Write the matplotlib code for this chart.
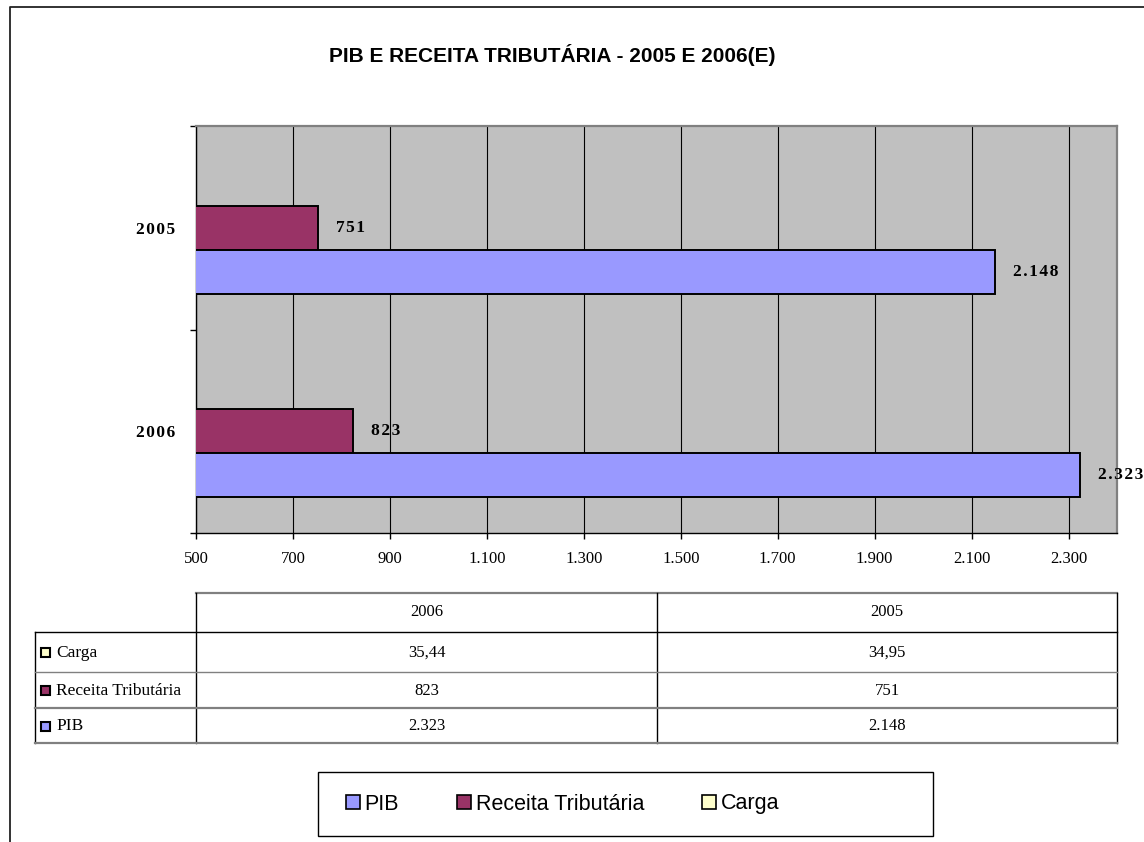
import numpy as np
import matplotlib
matplotlib.use("Agg")
import matplotlib.pyplot as plt
from matplotlib.patches import Patch, Rectangle
from matplotlib import font_manager

# ─────────────────────────────────────────────
# DATA
# ─────────────────────────────────────────────
YEARS       = ["2005", "2006"]               # top -> bottom in the chart
PIB         = [2148, 2323]
RECEITA     = [751, 823]
CARGA       = [34.95, 35.44]
X_TICKS     = [500, 700, 900, 1100, 1300, 1500, 1700, 1900, 2100, 2300]
X_MIN, X_MAX = 500, 2400
TABLE_COLS  = ["2006", "2005"]
TABLE_ROWS  = ["Carga", "Receita Tributária", "PIB"]
LEGEND_ORDER = ["PIB", "Receita Tributária", "Carga"]
TITLE       = "PIB E RECEITA TRIBUTÁRIA - 2005 E 2006(E)"

COLORS = {"PIB": "#9999FF", "Receita Tributária": "#993366", "Carga": "#FFFFCC"}


# ─────────────────────────────────────────────
# Helpers
# ─────────────────────────────────────────────
def has_font(name):
    try:
        font_manager.findfont(font_manager.FontProperties(family=name),
                              fallback_to_default=False)
        return True
    except ValueError:
        return False


SANS  = "Liberation Sans Narrow" if has_font("Liberation Sans Narrow") else "Liberation Sans"
SERIF = "Liberation Serif"


def br_int(v):
    return f"{v:,.0f}".replace(",", ".")


def br_dec(v):
    return f"{v:.2f}".replace(".", ",")


def spaced(s):
    return "\u200a".join(s)


W, H = 1144, 842
fx = lambda px: px / W
fy = lambda py: 1 - py / H

fig = plt.figure(figsize=(W / 100, H / 100), dpi=100)

# ─────────────────────────────────────────────
# Main bar chart
# ─────────────────────────────────────────────
L, R, T, B = 196, 1117, 126, 533
ax = fig.add_axes([fx(L), fy(B), (R - L) / W, (B - T) / H])
ax.set_facecolor("#C0C0C0")

ypos = np.arange(len(YEARS)) + 0.5
bh   = 0.217
series = [("Carga", CARGA, -bh), ("Receita Tributária", RECEITA, 0.0), ("PIB", PIB, bh)]
for name, vals, off in series:
    ax.barh(ypos + off, vals, height=bh, color=COLORS[name],
            edgecolor="black", linewidth=1.4, zorder=3)
    if name == "Carga":
        continue   # below axis minimum, Excel hides it
    for y, v in zip(ypos + off, vals):
        ax.annotate(spaced(br_int(v)), (v, y), xytext=(13, 0),
                    textcoords="offset points", ha="left", va="center",
                    fontsize=12.5, fontweight="bold", family=SERIF, zorder=4)

ax.set_xlim(X_MIN, X_MAX)
ax.set_ylim(len(YEARS), 0)
ax.set_xticks(X_TICKS)
ax.set_xticklabels([br_int(v) for v in X_TICKS], family=SERIF, fontsize=12)
ax.tick_params(axis="x", direction="out", length=4, width=1, pad=9)

ax.set_yticks(np.arange(len(YEARS) + 1))
ax.set_yticklabels([])
ax.set_yticks(ypos, minor=True)
ax.set_yticklabels([spaced(y) for y in YEARS], minor=True,
                   family=SERIF, fontsize=12.5, fontweight="bold")
ax.tick_params(axis="y", which="major", direction="out", length=4, width=1)
ax.tick_params(axis="y", which="minor", length=0, pad=15)

ax.grid(axis="x", color="black", linewidth=0.8)
ax.set_axisbelow(True)
for side in ["top", "right"]:
    ax.spines[side].set_color("#808080")
    ax.spines[side].set_linewidth(1.6)
for side in ["left", "bottom"]:
    ax.spines[side].set_color("black")
    ax.spines[side].set_linewidth(1.0)

# ─────────────────────────────────────────────
# Overlay in pixel coords: frame, data table, legend box
# ─────────────────────────────────────────────
ov = fig.add_axes([0, 0, 1, 1], zorder=-1)
ov.set_xlim(0, W)
ov.set_ylim(H, 0)
ov.axis("off")

# outer chart frame (right / bottom edges are cut off)
ov.plot([10, 10, W + 5], [H + 5, 7, 7], color="#222222", linewidth=1.3, clip_on=False)

# data table
TL, C0, C1, C2 = 35, L, 657, R
R0, R1, R2, R3, R4 = 593, 632, 672, 708, 743
grey, blk = "#808080", "black"
ov.plot([C0, C2], [R0, R0], color=grey, linewidth=1.6)
ov.plot([C0, C0], [R0, R4], color=blk, linewidth=1.0)
ov.plot([C1, C1], [R0, R4], color=blk, linewidth=1.0)
ov.plot([C2, C2], [R0, R4], color=blk, linewidth=1.0)
ov.plot([TL, C2], [R1, R1], color=blk, linewidth=1.0)
ov.plot([TL, TL], [R1, R4], color=blk, linewidth=1.0)
ov.plot([TL, C2], [R2, R2], color=grey, linewidth=1.0)
ov.plot([TL, C2], [R3, R3], color=grey, linewidth=1.6)
ov.plot([TL, C2], [R4, R4], color=grey, linewidth=1.6)

col_centers = [(C0 + C1) / 2, (C1 + C2) / 2]
for cx, col in zip(col_centers, TABLE_COLS):
    ov.text(cx, (R0 + R1) / 2, col, ha="center", va="center",
            family=SERIF, fontsize=12)

row_bounds = [(R1, R2), (R2, R3), (R3, R4)]
row_values = {"Carga": CARGA, "Receita Tributária": RECEITA, "PIB": PIB}
for (top, bot), name in zip(row_bounds, TABLE_ROWS):
    cy = (top + bot) / 2 + 1
    ov.add_patch(Rectangle((41, cy - 5), 9, 9, facecolor=COLORS[name],
                           edgecolor="black", linewidth=1.5))
    ov.text(56, cy, name, ha="left", va="center",
            family=SERIF, fontsize=12.5)
    for cx, col in zip(col_centers, TABLE_COLS):
        v = row_values[name][YEARS.index(col)]
        txt = br_dec(v) if name == "Carga" else br_int(v)
        ov.text(cx, cy, txt, ha="center", va="center", family=SERIF, fontsize=12)

# legend box
ov.add_patch(Rectangle((318, 772), 615, 64, fill=False,
                       edgecolor="black", linewidth=1.0))
handles = [Patch(facecolor=COLORS[n], edgecolor="black", linewidth=1.2)
           for n in LEGEND_ORDER]
fig.legend(handles, LEGEND_ORDER, loc="center left",
           bbox_to_anchor=(fx(327), fy(804)), ncol=3, frameon=False,
           prop={"family": SANS, "size": 15.5},
           handlelength=0.65, handleheight=0.65, handletextpad=0.2,
           columnspacing=2.7)

# title
fig.text(fx(552), fy(55), TITLE, ha="center", va="center",
         family=SANS, fontsize=15, fontweight="bold")

fig.savefig("out.png", dpi=100)
